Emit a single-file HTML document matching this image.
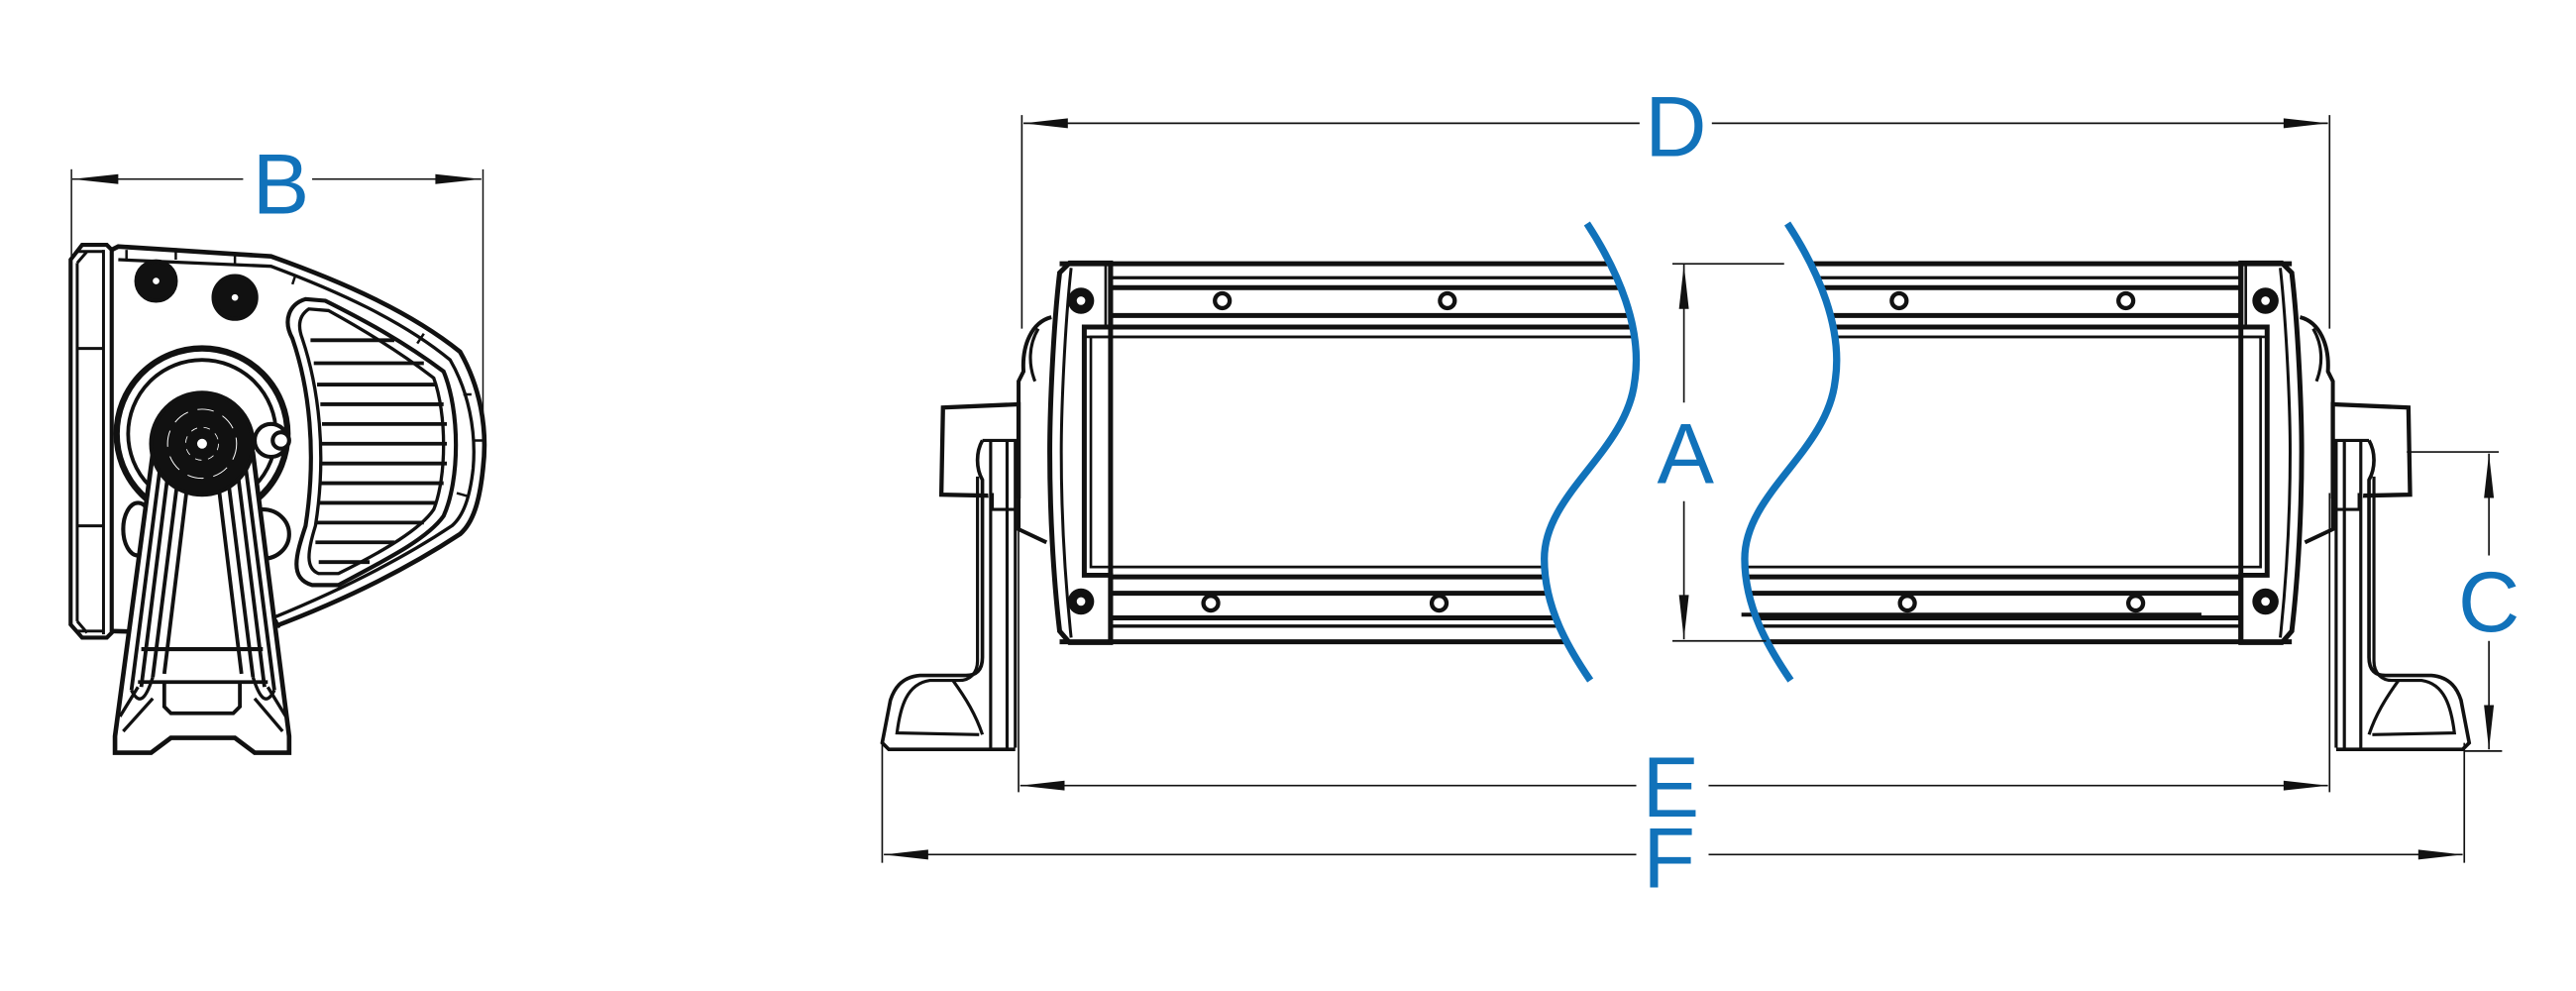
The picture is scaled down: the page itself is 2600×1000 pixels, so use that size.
<!DOCTYPE html>
<html><head><meta charset="utf-8"><style>html,body{margin:0;padding:0;background:#fff}svg{display:block}</style></head>
<body>
<svg width="2600" height="1000" viewBox="0 0 1568 603" preserveAspectRatio="none" xmlns="http://www.w3.org/2000/svg">
<defs>
<g id="brk" fill="none" stroke="#111" stroke-width="1.9">
  <path d="M640,193 C628,196 622,210 623,226 L620,232 L620,322 L637,330" stroke-width="2.4"/>
  <path d="M632,200 C626,210 626,222 630,232" />
  <path d="M574,248 L620,246 L620,302 L573,301 Z" stroke-width="2.6" fill="#fff"/>
  <path d="M598,268 L618,268 L618,455" fill="#fff"/>
  <path d="M603,268 L603,455 M613,268 L613,455"/>
  <path d="M598,268 C594,275 594,285 598,292 L598,400 C598,408 594,411 588,411 L560,411 C548,412 544,420 542,426 L537,452 L541,456 L618,456" stroke-width="2.2"/>
  <path d="M595,290 L595,402 C595,410 590,414 584,414 L566,414 C552,416 548,430 546,446 L596,447"/>
  <path d="M580,414 C588,425 594,435 598,447"/>
  <path d="M604,300 L604,310 L618,310"/>
</g>
</defs>

<!-- ===== SIDE VIEW ===== -->
<g fill="none" stroke="#111" stroke-width="2.5">
  <line x1="43.5" y1="103" x2="43.5" y2="160" stroke-width="0.9"/>
  <line x1="294" y1="103" x2="294" y2="270" stroke-width="0.9"/>
  <line x1="44" y1="109" x2="148" y2="109" stroke-width="0.9"/>
  <line x1="190" y1="109" x2="293" y2="109" stroke-width="0.9"/>
  <path d="M43,158 L50,149 L65,149 L68,152 L68,385 L65,388 L50,388 L43,380 Z" fill="#fff"/>
  <path d="M47,160 L47,378 M63,152 L63,386 M47,160 L53,153 M47,378 L53,385" stroke-width="1.8"/>
  <path d="M47,212 L63,212 M47,320 L63,320 M47,153 L63,153 M47,384 L63,384" stroke-width="1.8"/>
  <path d="M68,152 L72,150 L165,156 C210,172 250,190 280,214 C292,235 297,260 294,285 C292,305 288,318 280,325 C245,348 205,367 165,382 L150,386 L68,384" stroke-width="2.8"/>
  <path d="M72,158 L165,162 C205,177 245,195 274,219 C285,238 290,262 288,285 C286,303 282,314 275,320 C242,342 205,360 166,376" stroke-width="2"/>
  <path d="M77,152 L77,158 M107,151 L107,158 M143,155 L143,161 M180,167 L178,173 M258,203 L254,209 M282,240 L287,240 M289,268 L294,268 M278,300 L285,302 M168,377 L170,382" stroke-width="1.5"/>
  <path d="M186,182 C176,185 172,195 178,206 C188,235 193,275 186,320 C180,338 176,352 190,356 L206,356 C236,340 260,328 270,314 C280,292 280,250 270,226 C246,208 222,195 198,183 Z" stroke-width="2.5" fill="#fff"/>
  <path d="M188,188 C182,192 181,198 184,206 C194,236 199,276 192,320 C187,336 186,346 194,349 L206,349 C234,335 256,322 264,310 C272,290 272,252 264,230 C242,213 220,200 200,189 Z" stroke-width="2"/>
  <g stroke-width="2.3">
    <line x1="189" y1="207" x2="240" y2="207"/><line x1="191" y1="221" x2="258" y2="221"/>
    <line x1="193" y1="234" x2="266" y2="234"/><line x1="195" y1="246" x2="270" y2="246"/>
    <line x1="196" y1="258" x2="272" y2="258"/><line x1="196" y1="270" x2="272" y2="270"/>
    <line x1="196" y1="282" x2="272" y2="282"/><line x1="195" y1="294" x2="270" y2="294"/>
    <line x1="194" y1="306" x2="266" y2="306"/><line x1="192" y1="318" x2="258" y2="318"/>
    <line x1="192" y1="330" x2="240" y2="330"/><line x1="194" y1="342" x2="225" y2="342"/>
  </g>
  <circle cx="95" cy="171" r="12" fill="#111"/><circle cx="95" cy="171" r="2" fill="#fff" stroke="none"/>
  <circle cx="143" cy="181" r="13" fill="#111"/><circle cx="143" cy="181" r="2" fill="#fff" stroke="none"/>
  <ellipse cx="84" cy="322" rx="9" ry="16" fill="#fff"/>
  <ellipse cx="160" cy="325" rx="16" ry="15" fill="#fff"/>
  <circle cx="123" cy="264" r="52" stroke-width="3.8" fill="#fff"/>
  <circle cx="123" cy="264" r="45" stroke-width="2.3"/>
  <circle cx="165" cy="268" r="10" fill="#fff"/>
  <circle cx="171" cy="268" r="5" fill="#fff"/>
  <path d="M93,276 L70,448 L70,458 L92,458 L104,449 L143,449 L155,458 L176,458 L176,448 L154,276 Z" fill="#fff" stroke-width="2.8"/>
  <path d="M98,280 L80,420 M103,282 L86,418 M109,285 L93,412 M115,287 L100,410" stroke-width="2.3"/>
  <path d="M149,280 L167,420 M144,282 L161,418 M138,285 L154,412 M132,287 L147,410" stroke-width="2.3"/>
  <path d="M80,420 C84,428 88,428 93,412 M167,420 C163,428 159,428 154,412" stroke-width="2"/>
  <line x1="86" y1="395" x2="160" y2="395" stroke-width="2.5"/>
  <path d="M84,415 L163,415 M100,415 L100,430 L104,434 L142,434 L146,430 L146,415" stroke-width="2.3"/>
  <path d="M75,445 L93,425 M172,445 L155,425 M73,436 L84,418 M174,436 L163,418" stroke-width="2"/>
  <circle cx="123" cy="270" r="31" fill="#111"/>
  <circle cx="123" cy="270" r="21" stroke="#fff" stroke-width="0.6" stroke-dasharray="10 6"/>
  <circle cx="123" cy="270" r="10" stroke="#fff" stroke-width="0.5" stroke-dasharray="4 4"/>
  <circle cx="123" cy="270" r="3" fill="#fff" stroke="none"/>
</g>

<!-- ===== FRONT VIEW ===== -->
<use href="#brk"/>
<use href="#brk" transform="translate(2040,0) scale(-1,1)"/>

<g fill="none" stroke="#111">
  <rect x="645" y="160" width="750" height="231" fill="#fff" stroke="none"/>
  <path d="M651,160 L645,166 C641,200 639,250 639,275 C639,310 641,350 645,384 L651,391 L676,391 L676,160 Z" stroke-width="3" fill="#fff"/>
  <path d="M652,163 C648,200 646,250 646,275 C646,310 648,350 652,388" stroke-width="1.8"/>
  <path d="M1389,160 L1395,166 C1399,200 1401,250 1401,275 C1401,310 1399,350 1395,384 L1389,391 L1364,391 L1364,160 Z" stroke-width="3" fill="#fff"/>
  <path d="M1388,163 C1392,200 1394,250 1394,275 C1394,310 1392,350 1388,388" stroke-width="1.8"/>
  <g stroke-width="3">
    <line x1="645" y1="160.5" x2="1395" y2="160.5"/>
    <line x1="676" y1="169" x2="1364" y2="169" stroke-width="2"/>
    <line x1="676" y1="175" x2="1364" y2="175"/>
    <line x1="676" y1="192" x2="1364" y2="192"/>
    <line x1="676" y1="199" x2="1364" y2="199"/>
    <line x1="660" y1="205" x2="1380" y2="205" stroke-width="1.6"/>
    <line x1="676" y1="345" x2="1364" y2="345" stroke-width="1.6"/>
    <line x1="676" y1="351" x2="1364" y2="351"/>
    <line x1="676" y1="361" x2="1364" y2="361"/>
    <line x1="676" y1="376" x2="1364" y2="376"/>
    <line x1="676" y1="381" x2="1364" y2="381" stroke-width="2"/>
    <line x1="645" y1="390.5" x2="1395" y2="390.5"/>
  </g>
  <path d="M676,160 L676,199 L660,199 L660,350 L676,350 L676,391" stroke-width="3"/>
  <path d="M1364,160 L1364,199 L1380,199 L1380,350 L1364,350 L1364,391" stroke-width="3"/>
  <rect x="664" y="205" width="712" height="140" stroke-width="1.6"/>
  <line x1="673" y1="160" x2="673" y2="200" stroke-width="1.6"/>
  <line x1="1367" y1="160" x2="1367" y2="200" stroke-width="1.6"/>
  <g fill="#111" stroke="none">
    <circle cx="658" cy="183" r="8"/><circle cx="658" cy="366" r="8"/>
    <circle cx="1379" cy="183" r="8"/><circle cx="1379" cy="366" r="8"/>
  </g>
  <g fill="#fff" stroke="none">
    <circle cx="658" cy="183" r="2.6"/><circle cx="658" cy="366" r="2.6"/>
    <circle cx="1379" cy="183" r="2.6"/><circle cx="1379" cy="366" r="2.6"/>
  </g>
  <g stroke-width="2.6" fill="#fff">
    <circle cx="744" cy="183" r="4.5"/><circle cx="881" cy="183" r="4.5"/>
    <circle cx="1156" cy="183" r="4.5"/><circle cx="1294" cy="183" r="4.5"/>
    <circle cx="737" cy="367" r="4.5"/><circle cx="876" cy="367" r="4.5"/>
    <circle cx="1161" cy="367" r="4.5"/><circle cx="1300" cy="367" r="4.5"/>
  </g>
</g>

<path d="M966,136 C985,165 1000,200 995,232 C990,275 940,300 940,340 C940,370 955,395 968,414 L1090,414 C1077,395 1062,370 1062,340 C1062,300 1112,275 1117,232 C1122,200 1107,165 1088,136 Z" fill="#fff"/>
<line x1="1060" y1="374" x2="1340" y2="374" stroke="#111" stroke-width="2.4"/>
<path d="M966,136 C985,165 1000,200 995,232 C990,275 940,300 940,340 C940,370 955,395 968,414" fill="none" stroke="#1172BA" stroke-width="4.4"/>
<path d="M1088,136 C1107,165 1122,200 1117,232 C1112,275 1062,300 1062,340 C1062,370 1077,395 1090,414" fill="none" stroke="#1172BA" stroke-width="4.4"/>

<g stroke="#111" stroke-width="1" fill="none">
  <line x1="622" y1="70" x2="622" y2="200"/>
  <line x1="1418" y1="70" x2="1418" y2="200"/>
  <line x1="623" y1="75" x2="998" y2="75"/>
  <line x1="1042" y1="75" x2="1417" y2="75"/>
  <line x1="1018" y1="160.5" x2="1086" y2="160.5"/>
  <line x1="1018" y1="390" x2="1075" y2="390"/>
  <line x1="1025" y1="161" x2="1025" y2="245"/>
  <line x1="1025" y1="305" x2="1025" y2="389"/>
  <line x1="1465" y1="275" x2="1521" y2="275"/>
  <line x1="1500" y1="457" x2="1523" y2="457"/>
  <line x1="1515" y1="276" x2="1515" y2="338"/>
  <line x1="1515" y1="390" x2="1515" y2="456"/>
  <line x1="620" y1="300" x2="620" y2="482"/>
  <line x1="1418" y1="300" x2="1418" y2="482"/>
  <line x1="621" y1="478" x2="996" y2="478"/>
  <line x1="1040" y1="478" x2="1417" y2="478"/>
  <line x1="537" y1="452" x2="537" y2="525"/>
  <line x1="1500" y1="452" x2="1500" y2="525"/>
  <line x1="538" y1="520" x2="996" y2="520"/>
  <line x1="1040" y1="520" x2="1499" y2="520"/>
</g>
<g fill="#111">
  <path d="M44,109 L72,106 L72,112 Z"/><path d="M293,109 L265,106 L265,112 Z"/>
  <path d="M623,75 L650,72 L650,78 Z"/><path d="M1417,75 L1390,72 L1390,78 Z"/>
  <path d="M1025,161 L1022,188 L1028,188 Z"/><path d="M1025,389 L1022,362 L1028,362 Z"/>
  <path d="M1515,276 L1512,303 L1518,303 Z"/><path d="M1515,456 L1512,429 L1518,429 Z"/>
  <path d="M621,478 L648,475 L648,481 Z"/><path d="M1417,478 L1390,475 L1390,481 Z"/>
  <path d="M538,520 L565,517 L565,523 Z"/><path d="M1499,520 L1472,517 L1472,523 Z"/>
</g>
<g fill="#1172BA" font-family="'Liberation Sans', sans-serif" font-size="52" text-anchor="middle">
  <text x="171" y="130">B</text>
  <text x="1020" y="95">D</text>
  <text x="1026" y="294">A</text>
  <text x="1515" y="384">C</text>
  <text x="1017" y="497">E</text>
  <text x="1016" y="540">F</text>
</g>
</svg>
</body></html>
